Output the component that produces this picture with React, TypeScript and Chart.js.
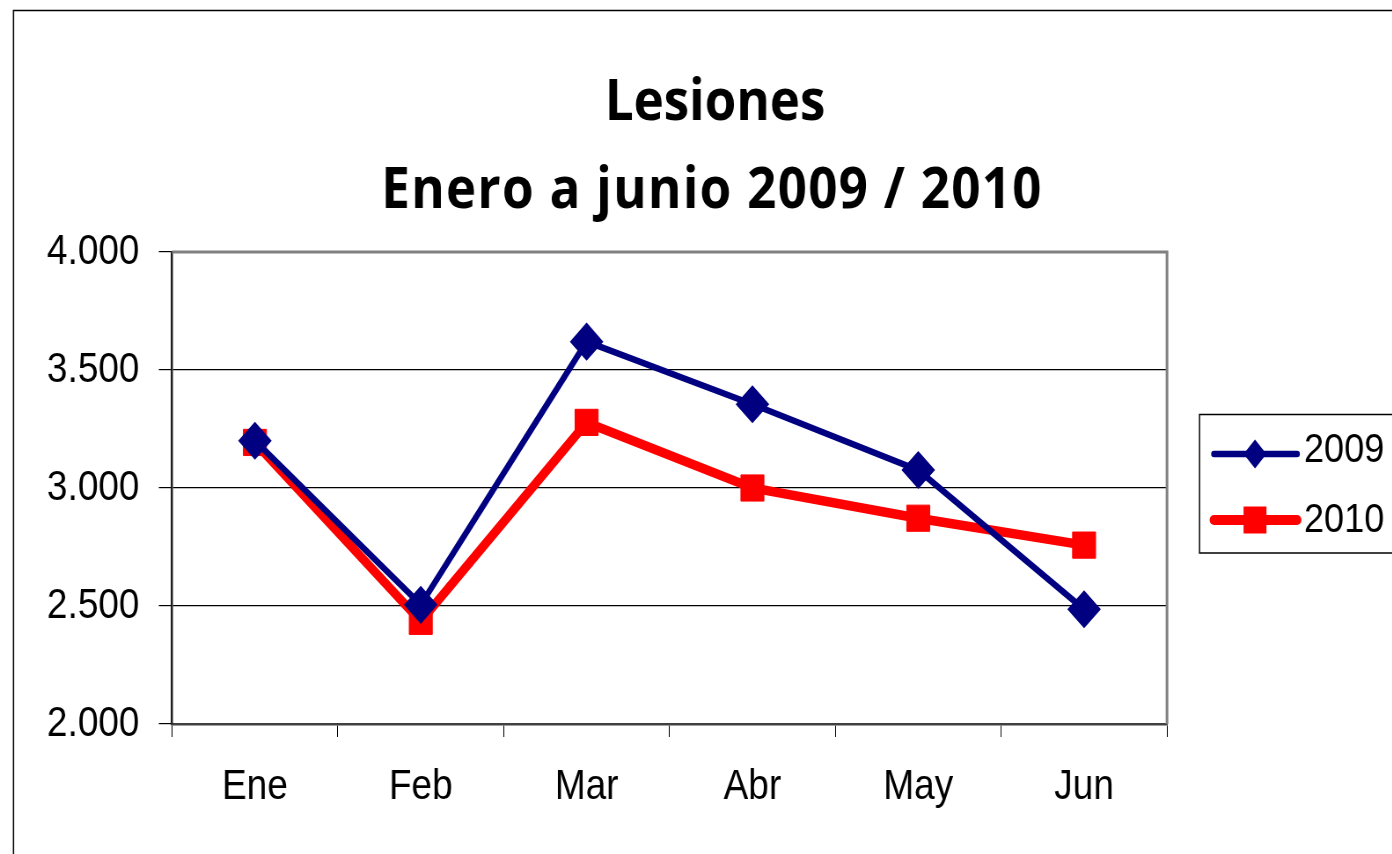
import React, { useEffect, useRef } from "react";
import { Chart, registerables } from "chart.js";

Chart.register(...registerables);

const categories = ["Ene", "Feb", "Mar", "Abr", "May", "Jun"];
const series2009 = [3200, 2505, 3620, 3355, 3076, 2486];
const series2010 = [3193, 2435, 3278, 3000, 2872, 2758];
const seriesLabels = ["2009", "2010"];
const titleLines = ["Lesiones", "Enero a junio 2009 / 2010"];
const yMin = 2000;
const yMax = 4000;
const yStep = 500;

const NAVY = "#000080";
const RED = "#FF0000";
const LABEL_FONT = "'Liberation Sans', Arial, sans-serif";
const TITLE_FONT = "'Open Sans', Lato, sans-serif";

// the reference picture is horizontally condensed; draw wide and squeeze
const SX = 0.88;
const PAGE_W = 1392;
const PAGE_H = 854;
const CW = Math.round(PAGE_W / SX);
const px = (x: number) => x / SX;

const fmt = (v: number) => {
  const th = Math.floor(v / 1000);
  const rest = String(v % 1000).padStart(3, "0");
  return `${th}.${rest}`;
};

const decorPlugin = {
  id: "decor",
  beforeDraw(chart: any) {
    const ctx = chart.ctx;
    ctx.save();
    ctx.fillStyle = "#fff";
    ctx.fillRect(0, 0, chart.width, chart.height);
    ctx.strokeStyle = "#000";
    ctx.lineWidth = 1.5;
    ctx.strokeRect(px(13.5), 10.5, chart.width + 40, chart.height + 20);
    ctx.restore();
  },
  beforeDatasetsDraw(chart: any) {
    const { ctx, chartArea } = chart;
    ctx.save();
    ctx.strokeStyle = "#808080";
    ctx.lineWidth = 3;
    ctx.beginPath();
    ctx.moveTo(chartArea.left, chartArea.top);
    ctx.lineTo(chartArea.right, chartArea.top);
    ctx.lineTo(chartArea.right, chartArea.bottom);
    ctx.stroke();
    ctx.restore();
  },
  afterDraw(chart: any) {
    const ctx = chart.ctx;
    ctx.save();
    // title
    ctx.fillStyle = "#000";
    ctx.textAlign = "center";
    ctx.textBaseline = "alphabetic";
    ctx.font = `bold 58px ${TITLE_FONT}`;
    ctx.fillText(titleLines[0], px(715), 120);
    (ctx as any).letterSpacing = "1.5px";
    ctx.fillText(titleLines[1], px(712), 208);
    (ctx as any).letterSpacing = "0px";
    // legend
    ctx.strokeStyle = "#000";
    ctx.lineWidth = 1.5;
    ctx.strokeRect(px(1199.5), 414.5, 400, 138.5);
    const rows = [454, 520];
    const lw = [6.5, 10];
    chart.data.datasets.forEach((ds: any, i: number) => {
      const y = rows[i];
      ctx.strokeStyle = ds.borderColor;
      ctx.lineWidth = lw[i];
      ctx.lineCap = "round";
      ctx.beginPath();
      ctx.moveTo(px(1214), y);
      ctx.lineTo(px(1297), y);
      ctx.stroke();
      ctx.fillStyle = ds.borderColor;
      const cx = px(1255);
      if (ds.pointStyle === "rectRot") {
        ctx.beginPath();
        ctx.moveTo(cx, y - 14.5);
        ctx.lineTo(cx + 13, y);
        ctx.lineTo(cx, y + 14.5);
        ctx.lineTo(cx - 13, y);
        ctx.closePath();
        ctx.fill();
      } else {
        ctx.fillRect(cx - 13, y - 13.5, 26, 27);
      }
      ctx.fillStyle = "#000";
      ctx.textAlign = "left";
      ctx.textBaseline = "alphabetic";
      ctx.font = `41px ${LABEL_FONT}`;
      ctx.fillText(ds.label, px(1304), i === 0 ? 462 : 532);
    });
    ctx.restore();
  },
};

export default function App() {
  const ref = useRef<HTMLCanvasElement | null>(null);
  useEffect(() => {
    if (!ref.current) return;
    const chart = new Chart(ref.current, {
      type: "line",
      data: {
        labels: categories,
        datasets: [
          {
            label: seriesLabels[0],
            data: series2009,
            borderColor: NAVY,
            backgroundColor: NAVY,
            borderWidth: 6.5,
            pointStyle: "rectRot",
            pointRadius: 18,
            pointBorderWidth: 1.5,
            tension: 0,
          },
          {
            label: seriesLabels[1],
            data: series2010,
            borderColor: RED,
            backgroundColor: RED,
            borderWidth: 9.5,
            pointStyle: "rect",
            pointRadius: 18.5,
            pointBorderWidth: 1,
            tension: 0,
          },
        ],
      },
      options: {
        responsive: false,
        animation: false,
        layout: { padding: { left: 0, right: CW - px(1167), top: 252, bottom: 0 } },
        plugins: {
          legend: { display: false },
          title: { display: false },
          tooltip: { enabled: false },
        },
        scales: {
          x: {
            offset: true,
            grid: {
              offset: true,
              drawOnChartArea: false,
              drawTicks: true,
              tickLength: 13,
              color: "#000",
            },
            border: { display: true, color: "#404040", width: 2.5 },
            ticks: {
              color: "#000",
              font: { family: LABEL_FONT, size: 42 },
              padding: 25,
              maxRotation: 0,
            },
            afterFit: (s: any) => {
              s.height = PAGE_H - 724;
            },
          },
          y: {
            min: yMin,
            max: yMax,
            grid: {
              color: (c: any) => (c.tick && c.tick.value === yMax ? "rgba(0,0,0,0)" : "#000"),
              tickColor: "#000",
              tickLength: 15,
              lineWidth: 1.2,
            },
            border: { display: true, color: "#202020", width: 2.5 },
            ticks: {
              stepSize: yStep,
              color: "#000",
              font: { family: LABEL_FONT, size: 42 },
              padding: 22,
              callback: (v: any) => fmt(Number(v)),
            },
            afterFit: (s: any) => {
              s.width = px(172);
            },
          },
        },
      },
      plugins: [decorPlugin],
    });
    return () => chart.destroy();
  }, []);
  return (
    <div style={{ position: "absolute", left: 0, top: 0, width: PAGE_W, height: PAGE_H, overflow: "hidden" }}>
      <div style={{ width: CW, height: PAGE_H, transform: `scaleX(${SX})`, transformOrigin: "0 0" }}>
        <canvas ref={ref} width={CW} height={PAGE_H} style={{ display: "block" }} />
      </div>
    </div>
  );
}
